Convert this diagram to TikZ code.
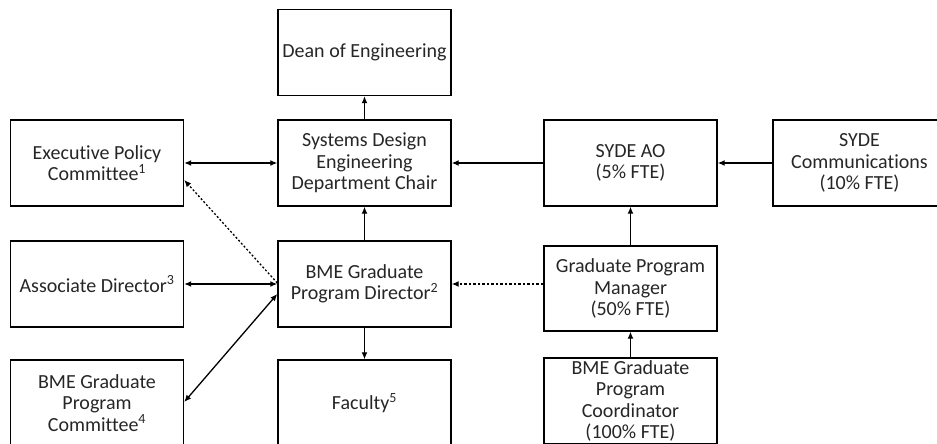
\documentclass[tikz,border=0pt]{standalone}
\usepackage{fontspec}
\setmainfont{Carlito}[Ligatures=NoCommon]
\usetikzlibrary{arrows.meta,calc}
\begin{document}
\begin{tikzpicture}[x=1pt,y=-1pt,
  box/.style={draw,line width=1.4pt,minimum width=173pt,minimum height=86pt,inner sep=0pt,align=center,font=\fontsize{20}{21.5}\selectfont,text=black!85},
  conn/.style={line width=1.3pt,-{Latex[length=7pt,width=6pt]}},
  biconn/.style={line width=1.3pt,{Latex[length=7pt,width=6pt]}-{Latex[length=7pt,width=6pt]}}]
\useasboundingbox (0,0) rectangle (937,444);
\node[box] (dean) at (364.5,52.5) {Dean of Engineering};
\node[box] (chair) at (364.5,163) {Systems Design\\Engineering\\Department Chair};
\node[box] (exec) at (97,163) {Executive Policy\\Committee\textsuperscript{1}};
\node[box] (assoc) at (97,284) {Associate Director\textsuperscript{3}};
\node[box] (committee) at (97,403) {BME Graduate\\Program\\Committee\textsuperscript{4}};
\node[box] (director) at (364.5,284) {BME Graduate\\Program Director\textsuperscript{2}};
\node[box] (faculty) at (364.5,403) {Faculty\textsuperscript{5}};
\node[box] (ao) at (630.5,163) {SYDE AO\\(5\% FTE)};
\node[box] (comm) at (859.5,163) {SYDE\\Communications\\(10\% FTE)};
\node[box,minimum height=85pt] (gpm) at (630.5,288.5) {Graduate Program\\Manager\\(50\% FTE)};
\node[box] (coord) at (630.5,401) {BME Graduate\\Program\\Coordinator\\(100\% FTE)};
\draw[conn] (chair) -- (dean);
\draw[biconn] (exec) -- (chair);
\draw[conn] (director) -- (chair);
\draw[conn] (director) -- (faculty);
\draw[conn] (ao) -- (chair);
\draw[conn] (comm) -- (ao);
\draw[conn] (gpm) -- (ao);
\draw[conn] (coord) -- (gpm);
\draw[conn,dash pattern=on 2.5pt off 2pt] (gpm.west |- director.east) -- (director.east);
\draw[biconn] (assoc) -- (director);
\draw[conn,dash pattern=on 2pt off 2pt] ($(director.west)+(0,-1)$) -- ($(exec.east)+(0,17)$);
\draw[biconn] ($(committee.east)+(0,-1)$) -- ($(director.west)+(0,10)$);
\end{tikzpicture}
\end{document}
